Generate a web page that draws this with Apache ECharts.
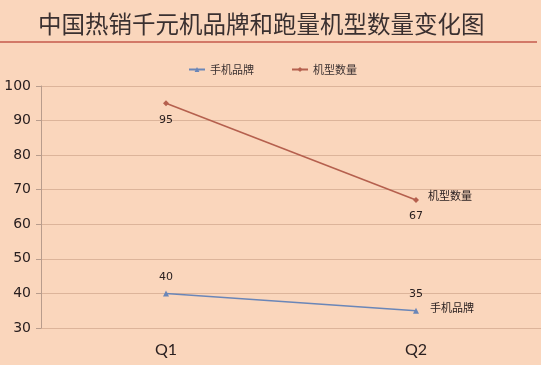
<!DOCTYPE html>
<html>
<head>
<meta charset="utf-8">
<script src="https://cdn.jsdelivr.net/npm/echarts@6/dist/echarts.min.js"></script>
<style>
html,body{margin:0;padding:0;background:#fad6bc;}
#c{width:541px;height:365px;}
</style>
</head>
<body>
<div id="c"></div>
<script>
var titleText = '中国热销千元机品牌和跑量机型数量变化图';
var categories = ['Q1', 'Q2'];
var brandName = '手机品牌';
var brandValues = [40, 35];
var modelName = '机型数量';
var modelValues = [95, 67];
var yTicks = [30, 40, 50, 60, 70, 80, 90, 100];

var chart = echarts.init(document.getElementById('c'));
chart.setOption({
  backgroundColor: '#fad6bc',
  animation: false,
  title: {
    text: titleText,
    left: 33,
    top: 7,
    textStyle: {fontFamily: 'Noto Sans CJK SC', fontSize: 23.5, fontWeight: 'normal', color: '#3a3030'}
  },
  graphic: [{
    type: 'line',
    shape: {x1: 0, y1: 42, x2: 537, y2: 42},
    style: {stroke: '#c55a4c', lineWidth: 1.5}
  }],
  legend: {
    top: 59,
    left: 183,
    itemGap: 37,
    itemWidth: 16,
    itemHeight: 6,
    textStyle: {fontFamily: 'Noto Sans CJK SC', fontSize: 11, color: '#3a3030'},
    data: [brandName, modelName]
  },
  grid: {left: 41, top: 86, width: 504, height: 242},
  xAxis: {
    type: 'category',
    data: categories,
    boundaryGap: true,
    axisLine: {show: false},
    axisTick: {show: false},
    axisLabel: {fontFamily: 'Lato', fontSize: 16, color: '#2a2020', margin: 14}
  },
  yAxis: {
    type: 'value',
    min: yTicks[0],
    max: yTicks[yTicks.length - 1],
    interval: 10,
    axisLine: {show: true, lineStyle: {color: '#b89c8c'}},
    axisTick: {show: true, length: 5, lineStyle: {color: '#b89c8c'}},
    axisLabel: {fontFamily: 'DejaVu Sans', fontSize: 14, color: '#2a2020', margin: 10},
    splitLine: {lineStyle: {color: '#dcb49a', width: 1}}
  },
  series: [{
    name: brandName,
    type: 'line',
    data: brandValues,
    symbol: 'triangle',
    symbolSize: 6,
    color: '#6a86b8',
    lineStyle: {width: 1.6, color: '#6a86b8'},
    label: {show: true, position: 'top', distance: 8, fontFamily: 'DejaVu Sans', fontSize: 11, color: '#2a2020'},
    endLabel: {show: true, formatter: '{a}', distance: 14, offset: [0, -3], fontFamily: 'Noto Sans CJK SC', fontSize: 11, color: '#2a2020'}
  }, {
    name: modelName,
    type: 'line',
    data: modelValues,
    symbol: 'diamond',
    symbolSize: 6,
    color: '#b5604e',
    lineStyle: {width: 1.6, color: '#b5604e'},
    label: {show: true, position: 'bottom', distance: 8, fontFamily: 'DejaVu Sans', fontSize: 11, color: '#2a2020'},
    endLabel: {show: true, formatter: '{a}', distance: 12, offset: [0, -4], fontFamily: 'Noto Sans CJK SC', fontSize: 11, color: '#2a2020'}
  }]
});
</script>
</body>
</html>
